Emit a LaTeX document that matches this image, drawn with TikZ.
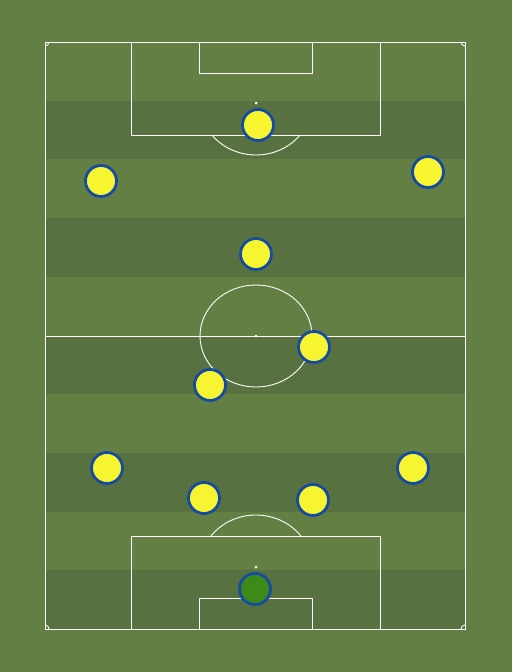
\documentclass[tikz,border=0pt]{standalone}
\usepackage{tikz}
\usetikzlibrary{shadows}
\usetikzlibrary{positioning}
\definecolor{grass}{RGB}{99,127,68}
\definecolor{grassdark}{RGB}{88,113,64}
\definecolor{shirt}{RGB}{247,245,50}
\definecolor{keeper}{RGB}{60,138,24}
\definecolor{rim}{RGB}{22,76,160}
\tikzstyle{mark line} = [draw=white,line width=0.9pt]
\tikzstyle{player} = [circle,draw=rim,line width=2.8pt,minimum size=31pt,inner sep=0pt,
  drop shadow={shadow xshift=0.8pt,shadow yshift=-1pt,opacity=0.3}]

\begin{document}
\begin{tikzpicture}[x=1pt,y=-1pt]
  \useasboundingbox (0,0) rectangle (512,672);
  \fill[grass] (0,0) rectangle (512,672);

  % stripes
  \def\h{58.7}
  \fill[grassdark] (45,42+1*\h) rectangle (465,42+2*\h);
  \fill[grassdark] (45,42+3*\h) rectangle (465,42+4*\h);
  \fill[grassdark] (45,42+5*\h) rectangle (465,42+6*\h);
  \fill[grassdark] (45,42+7*\h) rectangle (465,42+8*\h);
  \fill[grassdark] (45,42+9*\h) rectangle (465,629);

  % pitch lines
  \draw[mark line] (45,42) rectangle (465,629);
  \draw[mark line] (45,336) -- (465,336);
  \draw[mark line] (256,336) ellipse [x radius=56,y radius=51];
  \fill[white] (256,336) circle (1.5);

  \draw[mark line] (131,42) rectangle (380,135);
  \draw[mark line] (199,42) rectangle (312,73);
  \fill[white] (256,103) circle (1.5);
  \draw[mark line] (300.1,135) arc[start angle=38,end angle=142,x radius=56,y radius=52];

  \draw[mark line] (131,536) rectangle (380,629);
  \draw[mark line] (199,598) rectangle (312,629);
  \fill[white] (256,567) circle (1.5);
  \draw[mark line] (211,536) arc[start angle=216.6,end angle=323.4,x radius=56,y radius=52];

  \draw[mark line] (49,42) arc[start angle=0,end angle=90,radius=4];
  \draw[mark line] (461,42) arc[start angle=180,end angle=90,radius=4];
  \draw[mark line] (49,629) arc[start angle=0,end angle=-90,radius=4];
  \draw[mark line] (461,629) arc[start angle=180,end angle=270,radius=4];

  % players
  \node[player, fill=shirt] (p1) at (258,125) {};
  \node[player, fill=shirt] (p2) at (101,181) {};
  \node[player, fill=shirt] (p3) at (428,172) {};
  \node[player, fill=shirt] (p4) at (256,254) {};
  \node[player, fill=shirt] (p5) at (314,347) {};
  \node[player, fill=shirt] (p6) at (210,385) {};
  \node[player, fill=shirt] (p7) at (107,468) {};
  \node[player, fill=shirt] (p8) at (413,468) {};
  \node[player, fill=shirt] (p9) at (204,498) {};
  \node[player, fill=shirt] (p10) at (313,500) {};
  \node[player, fill=keeper] (gk) at (255,589) {};
\end{tikzpicture}
\end{document}
